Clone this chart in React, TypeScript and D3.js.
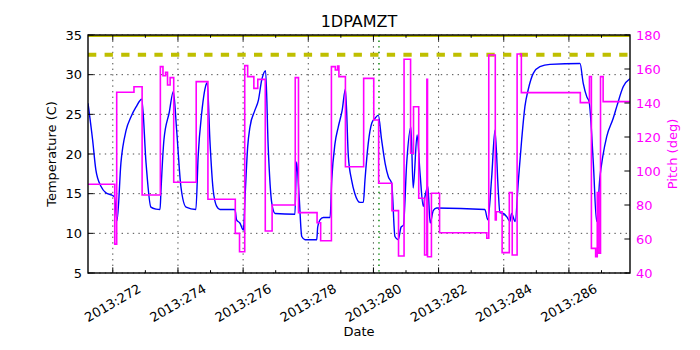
import React from "react";
import * as d3 from "d3";

const title = "1DPAMZT";
const xMajorTicks = [272, 274, 276, 278, 280, 282, 284, 286];
const xMinorTicks = [273, 275, 277, 279, 281, 283, 285, 287];
const tempTicks = [5, 10, 15, 20, 25, 30, 35];
const pitchTicks = [40, 60, 80, 100, 120, 140, 160, 180];
const tempLimit = 32.5;
const tempMax = 35;
const markerDay = 280.17;

const tempDays = [
  271.24, 271.38, 271.48, 271.64, 271.79, 271.98, 272.05, 272.13, 272.25, 272.41,
  272.56, 272.71, 272.89, 273.02, 273.17, 273.33, 273.45, 273.48, 273.57, 273.73,
  273.86, 273.96, 274.09, 274.25, 274.55, 274.62, 274.73, 274.88, 274.9, 274.98,
  275.08, 275.19, 275.29, 275.75, 275.8, 275.9, 276.01, 276.06, 276.14, 276.21,
  276.36, 276.47, 276.57, 276.69, 276.77, 276.88, 276.98, 277.59, 277.64, 277.72,
  277.8, 277.9, 278.26, 278.29, 278.36, 278.46, 278.67, 278.72, 278.82, 278.92,
  279.04, 279.14, 279.23, 279.33, 279.43, 279.59, 279.69, 279.74, 279.84, 279.95,
  280.05, 280.15, 280.25, 280.36, 280.46, 280.56, 280.66, 280.76, 280.85, 280.92,
  281.02, 281.15, 281.22, 281.34, 281.43, 281.53, 281.58, 281.67, 281.74, 281.84,
  281.94, 283.42, 283.51, 283.63, 283.73, 283.83, 283.88, 283.99, 284.09, 284.19,
  284.24, 284.35, 284.45, 284.55, 284.65, 284.75, 284.91, 285.11, 285.42, 286.34,
  286.44, 286.55, 286.62, 286.75, 286.85, 286.95, 287.04, 287.16, 287.36, 287.47,
  287.67, 287.88,
];
const tempValues = [
  26.4, 21.8, 18.0, 15.9, 15.1, 14.8, 14.6, 11.6, 18.9, 23.0,
  24.7, 25.9, 26.9, 18.9, 13.3, 13.05, 13.0, 15.5, 21.8, 25.2,
  27.9, 23.0, 15.9, 13.3, 13.0, 19.7, 25.2, 28.9, 29.0, 21.8,
  15.5, 13.4, 13.0, 13.0, 11.7, 11.3, 10.4, 14.6, 20.9, 23.4,
  25.5, 26.8, 29.3, 30.5, 20.9, 13.8, 12.5, 12.4, 19.0, 14.6,
  9.6, 9.2, 9.2, 10.8, 11.7, 12.0, 12.0, 16.7, 21.3, 23.4,
  25.5, 28.2, 19.7, 16.7, 15.0, 13.9, 13.9, 16.7, 21.3, 23.9,
  24.5, 24.9, 21.8, 18.8, 17.1, 16.3, 9.6, 9.2, 10.8, 11.0,
  18.8, 23.4, 15.7, 22.4, 17.6, 13.4, 14.6, 15.9, 11.3, 12.9,
  13.2, 13.0, 11.7, 17.1, 23.0, 15.5, 12.6, 12.5, 12.1, 11.5,
  12.5, 11.5, 16.7, 21.8, 26.0, 28.1, 30.2, 31.0, 31.3, 31.4,
  28.9, 27.2, 26.6, 18.8, 11.5, 17.0, 19.7, 22.2, 24.5, 26.0,
  28.5, 29.5,
];

const pitchDays = [
  271.24, 272.06, 272.12, 272.65, 272.9, 273.46, 273.54, 273.62, 273.68, 273.76,
  273.87, 274.56, 274.92, 275.76, 275.89, 276.05, 276.14, 276.33, 276.45, 276.68,
  276.89, 277.6, 277.7, 278.27, 278.38, 278.71, 278.83, 278.9, 278.94, 279.14,
  279.7, 280.01, 280.16, 280.57, 280.77, 280.94, 281.14, 281.23, 281.39, 281.57,
  281.64, 281.66, 281.78, 282.03, 283.48, 283.54, 283.74, 283.77, 283.95, 284.17,
  284.26, 284.41, 284.54, 286.35, 286.63, 286.69, 286.82, 286.87, 286.92, 286.97,
  287.05, 287.88,
];
const pitchValues = [
  92.2, 57.0, 146.3, 149.6, 85.9, 161.4, 156.0, 158.0, 150.6, 154.9,
  93.4, 152.6, 83.4, 63.3, 52.5, 162.0, 155.5, 148.6, 153.9, 64.7,
  80.0, 154.9, 75.5, 69.6, 59.0, 161.4, 159.4, 161.8, 155.5, 102.5,
  154.5, 130.0, 92.8, 76.7, 50.0, 165.7, 110.4, 137.8, 84.0, 50.6,
  153.9, 49.6, 86.9, 63.7, 60.4, 168.2, 71.2, 76.0, 52.0, 87.3,
  50.6, 168.8, 146.1, 140.2, 155.5, 54.5, 49.6, 87.3, 51.6, 155.5,
  140.8, 140.8,
];

const W = 700;
const H = 350;
const L = 88;
const R = 630;
const T = 35;
const B = 273;
const FONT = "DejaVu Sans, sans-serif";

export default function App() {
  const x = d3.scaleLinear().domain([271.239, 287.875]).range([L, R]);
  const yT = d3.scaleLinear().domain([5, 35]).range([B, T]);
  const yP = d3.scaleLinear().domain([40, 180]).range([B, T]);

  const tempData = tempDays.map((d, i) => [d, tempValues[i]] as [number, number]);
  const pitchData = pitchDays.map((d, i) => [d, pitchValues[i]] as [number, number]);

  const tempLine = d3
    .line<[number, number]>()
    .x((d) => x(d[0]))
    .y((d) => yT(d[1]))
    .curve(d3.curveMonotoneX);
  const pitchLine = d3
    .line<[number, number]>()
    .x((d) => x(d[0]))
    .y((d) => yP(d[1]))
    .curve(d3.curveStepAfter);

  const major = 5.6;
  const minor = 2.8;

  return (
    <svg
      width={W}
      height={H}
      style={{ position: "absolute", left: 0, top: 0, background: "#fff" }}
      fontFamily={FONT}
    >
      <defs>
        <clipPath id="plotclip">
          <rect x={L} y={T} width={R - L} height={B - T} />
        </clipPath>
      </defs>
      <rect x={0} y={0} width={W} height={H} fill="#fff" />

      {/* grid */}
      <g stroke="#000" strokeWidth={0.7} strokeDasharray="1.4,4.2">
        {xMajorTicks.map((d) => (
          <line key={"gx" + d} x1={x(d)} x2={x(d)} y1={T} y2={B} />
        ))}
        {tempTicks.map((v) => (
          <line key={"gy" + v} x1={L} x2={R} y1={yT(v)} y2={yT(v)} />
        ))}
      </g>

      <g clipPath="url(#plotclip)">
        <line
          x1={L}
          x2={R}
          y1={yT(tempMax)}
          y2={yT(tempMax)}
          stroke="#bfbf00"
          strokeWidth={4}
        />
        <line
          x1={L}
          x2={R}
          y1={yT(tempLimit)}
          y2={yT(tempLimit)}
          stroke="#bfbf00"
          strokeWidth={4}
          strokeDasharray="8.3,8.3"
        />
        <line
          x1={x(markerDay)}
          x2={x(markerDay)}
          y1={T}
          y2={B}
          stroke="#008000"
          strokeWidth={1.4}
          strokeDasharray="1.4,4.2"
        />
        <path d={tempLine(tempData) || ""} fill="none" stroke="#0000ff" strokeWidth={1.4} />
        <path d={pitchLine(pitchData) || ""} fill="none" stroke="#ff00ff" strokeWidth={1.6} />
      </g>

      {/* frame */}
      <rect x={L} y={T} width={R - L} height={B - T} fill="none" stroke="#000" strokeWidth={1.4} />

      {/* x ticks */}
      <g stroke="#000" strokeWidth={1}>
        {xMajorTicks.map((d) => (
          <g key={"xt" + d}>
            <line x1={x(d)} x2={x(d)} y1={B} y2={B - major} />
            <line x1={x(d)} x2={x(d)} y1={T} y2={T + major} />
          </g>
        ))}
        {xMinorTicks
          .filter((d) => x(d) <= R)
          .map((d) => (
            <g key={"xm" + d}>
              <line x1={x(d)} x2={x(d)} y1={B} y2={B - minor} />
              <line x1={x(d)} x2={x(d)} y1={T} y2={T + minor} />
            </g>
          ))}
        {tempTicks.map((v) => (
          <line key={"lt" + v} x1={L} x2={L + major} y1={yT(v)} y2={yT(v)} />
        ))}
        {pitchTicks.map((v) => (
          <line key={"rt" + v} x1={R} x2={R - major} y1={yP(v)} y2={yP(v)} />
        ))}
      </g>

      {/* x tick labels */}
      <g fontSize={13} fill="#000">
        {xMajorTicks.map((d) => (
          <text
            key={"xl" + d}
            transform={`translate(${x(d)},${303}) rotate(-30)`}
            textAnchor="middle"
            dominantBaseline="central"
          >
            {`2013:${d}`}
          </text>
        ))}
      </g>

      {/* left labels */}
      <g fontSize={13} fill="#000">
        {tempTicks.map((v) => (
          <text key={"ll" + v} x={82} y={yT(v)} textAnchor="end" dominantBaseline="central">
            {v}
          </text>
        ))}
      </g>

      {/* right labels */}
      <g fontSize={13} fill="#ff00ff">
        {pitchTicks.map((v) => (
          <text key={"rl" + v} x={636} y={yP(v)} textAnchor="start" dominantBaseline="central">
            {v}
          </text>
        ))}
      </g>

      <text x={(L + R) / 2} y={27} fontSize={16} textAnchor="middle" fill="#000">
        {title}
      </text>
      <text x={(L + R) / 2} y={336} fontSize={13} textAnchor="middle" fill="#000">
        Date
      </text>
      <text
        transform={`translate(51,${(T + B) / 2}) rotate(-90)`}
        fontSize={13}
        textAnchor="middle"
        dominantBaseline="central"
        fill="#000"
      >
        Temperature (C)
      </text>
      <text
        transform={`translate(672,${(T + B) / 2}) rotate(-90)`}
        fontSize={13}
        textAnchor="middle"
        dominantBaseline="central"
        fill="#ff00ff"
      >
        Pitch (deg)
      </text>
    </svg>
  );
}
